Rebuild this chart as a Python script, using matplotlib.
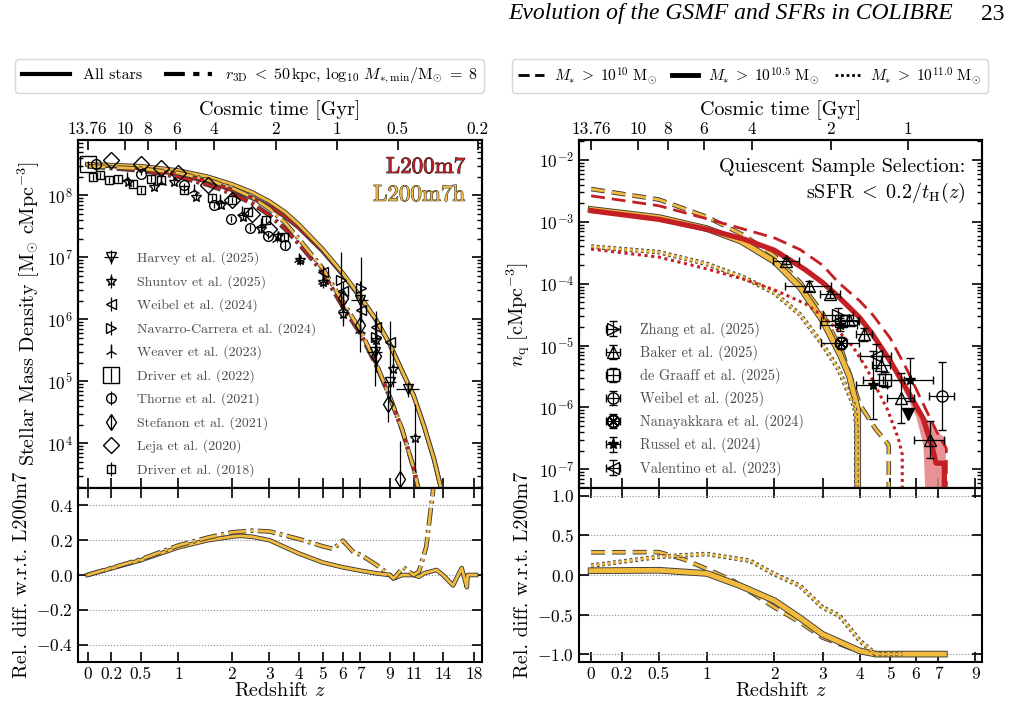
import numpy as np
import matplotlib
matplotlib.use('Agg')
import matplotlib.pyplot as plt
import matplotlib.patheffects as pe
from matplotlib.lines import Line2D
from matplotlib.ticker import NullLocator

plt.rcParams['font.family'] = 'serif'
plt.rcParams['font.serif'] = ['cmr10']
plt.rcParams['mathtext.fontset'] = 'cm'
plt.rcParams['axes.formatter.use_mathtext'] = True
plt.rcParams['axes.linewidth'] = 1.5

RED = '#c41f24'
GOLD = '#f3bb3d'

# ---------------- left panel: stellar mass density (log10 values) -------------
z_smd = [0, 0.5, 1, 1.5, 2, 2.5, 3, 3.5, 4, 5, 6, 7, 8, 9, 10, 11, 12, 13, 14, 14.5]
smd_m7_all = [8.50, 8.44, 8.34, 8.22, 8.09, 7.96, 7.82, 7.66, 7.48, 7.10, 6.72,
              6.35, 5.99, 5.60, 5.16, 4.77, 4.27, 3.75, 3.15, 2.80]
smd_m7h_all = [8.50, 8.47, 8.40, 8.30, 8.18, 8.05, 7.90, 7.73, 7.53, 7.13, 6.74,
               6.36, 6.00, 5.60, 5.16, 4.77, 4.27, 3.75, 3.15, 2.80]
z_smd_ap = [0, 0.5, 1, 1.5, 2, 2.5, 3, 3.5, 4, 5, 6, 7, 8, 9, 10, 11, 11.5, 12]
smd_m7_ap = [8.47, 8.40, 8.30, 8.17, 8.03, 7.87, 7.68, 7.46, 7.22, 6.76, 6.20,
             5.77, 5.27, 4.75, 4.21, 3.60, 3.20, 2.70]
smd_m7h_ap = [8.47, 8.43, 8.36, 8.25, 8.12, 7.97, 7.78, 7.56, 7.30, 6.82, 6.28,
              5.82, 5.30, 4.75, 4.22, 3.60, 3.22, 2.80]

z_diff_all = [0, 0.5, 1, 1.5, 2, 2.2, 2.5, 3, 4, 5, 6, 7, 8, 9, 9.3, 10, 11, 11.5,
              12, 13.3, 14, 15.2, 16.3, 17.0, 17.1, 18.3]
diff_all = [0, 0.085, 0.159, 0.2, 0.22, 0.225, 0.22, 0.2, 0.124, 0.072, 0.044,
            0.025, 0.01, 0.0, -0.02, 0.0, 0.0, -0.01, 0.01, 0.029, 0.0, -0.06,
            0.04, -0.07, 0.0, 0.0]
z_diff_ap = [0, 0.5, 1, 1.5, 2, 2.5, 3, 4, 5, 5.5, 6, 6.6, 7, 8, 9, 9.3, 10.1, 11,
             11.5, 12.2, 12.9, 13.3]
diff_ap = [0, 0.09, 0.17, 0.215, 0.245, 0.255, 0.25, 0.207, 0.165, 0.15, 0.197,
           0.13, 0.117, 0.06, 0.0, -0.02, 0.044, 0.0, 0.02, 0.16, 0.48, 1.2]

# observations (z, log10 rho, err dex, err z)
harvey_z = [6.96, 7.92, 9.0, 10.5]
harvey_lg = [6.31, 5.47, 4.99, 4.87]
harvey_e = [0.3, 0.55, 0.3, 0.12]
harvey_dz = [0.5, 0.5, 0.5, 1.0]
shuntov_z = [0.36, 0.66, 0.94, 1.28, 1.76, 2.26, 2.75, 3.26, 4.04, 5.01, 5.99, 7.99, 9.27, 11.1]
shuntov_lg = [8.21, 8.13, 8.21, 7.97, 7.84, 7.65, 7.46, 7.35, 6.95, 6.60, 6.09, 5.66, 5.20, 4.08]
shuntov_e = [0.04, 0.04, 0.04, 0.05, 0.05, 0.05, 0.06, 0.06, 0.08, 0.1, 0.2, 0.25, 0.3, 0.55]
weibel24_z = [5.0, 6.0, 7.04, 7.99, 9.0]
weibel24_lg = [6.76, 6.45, 6.15, 5.88, 5.63]
weibel24_e = [0.1, 0.15, 0.2, 0.25, 0.35]
navarro_z = [5.9, 7.04, 8.0]
navarro_lg = [6.63, 6.50, 5.71]
navarro_e = [0.45, 0.5, 0.3]
weaver_z = [0.35, 0.75, 1.25, 1.75, 2.25, 2.75, 3.25, 4.0, 5.0, 6.0, 7.0]
weaver_lg = [8.28, 8.22, 8.08, 7.93, 7.73, 7.53, 7.30, 6.98, 6.62, 6.18, 5.82]
weaver_e = [0.03, 0.03, 0.03, 0.04, 0.04, 0.05, 0.05, 0.08, 0.1, 0.2, 0.35]
driver22_z = [0.0]
driver22_lg = [8.50]
driver22_e = [0.06]
thorne_z = [0.065, 0.5, 1.09, 1.63, 1.99, 2.44, 2.96, 3.5]
thorne_lg = [8.51, 8.35, 8.16, 7.84, 7.62, 7.48, 7.35, 7.2]
thorne_e = [0.03, 0.03, 0.04, 0.04, 0.05, 0.05, 0.06, 0.06]
stefanon_z = [6.0, 7.0, 8.0, 8.9, 9.8]
stefanon_lg = [6.35, 5.9, 5.4, 4.64, 3.43]
stefanon_e = [0.15, 0.2, 0.25, 0.3, 0.6]
leja_z = [0.2, 0.5, 0.75, 1.0, 1.5, 2.0, 2.5, 3.0]
leja_lg = [8.57, 8.51, 8.44, 8.36, 8.16, 7.92, 7.7, 7.45]
driver18_z = [0.04, 0.1, 0.18, 0.26, 0.41, 0.5, 0.62, 0.75, 1.09, 1.59, 2.0, 2.4, 2.9, 3.48]
driver18_lg = [8.30, 8.32, 8.25, 8.27, 8.19, 8.08, 8.27, 8.24, 8.08, 7.96, 7.92, 7.73, 7.60, 7.33]
driver18_e = [0.05] * 14

# ---------------- right panel: quiescent number density (log10) ---------------
zq_m7_10 = [0, 0.5, 1.0, 1.5, 2.0, 2.5, 3.0, 3.4, 4.0, 4.4, 5.0, 5.6, 6.4, 7.0, 7.4, 7.4]
nq_m7_10 = [-2.58, -2.74, -2.95, -3.12, -3.26, -3.45, -3.70, -3.98, -4.28, -4.5,
            -4.88, -5.36, -6.01, -6.44, -6.66, -9]
zq_m7_105 = [0, 0.5, 1.0, 1.5, 2.0, 2.6, 3.0, 3.4, 4.0, 4.4, 5.0, 5.6, 6.3, 6.7, 6.9, 7.3, 7.3]
nq_m7_105 = [-2.82, -2.96, -3.12, -3.28, -3.46, -3.77, -3.98, -4.21, -4.55, -4.82,
             -5.25, -5.69, -6.17, -6.62, -6.9, -6.9, -9]
zq_m7_11 = [0, 0.5, 1.0, 1.5, 2.0, 2.6, 3.0, 3.4, 3.8, 4.2, 4.9, 5.3, 5.45, 5.45]
nq_m7_11 = [-3.44, -3.57, -3.76, -3.93, -4.1, -4.32, -4.52, -4.76, -5.02, -5.36,
            -6.03, -6.5, -6.76, -9]
zq_m7h_10 = [0, 0.5, 1.0, 1.5, 2.0, 2.5, 3.0, 3.5, 4.0, 4.5, 4.9, 4.95, 4.95]
nq_m7h_10 = [-2.47, -2.64, -2.92, -3.22, -3.55, -3.98, -4.48, -5.1, -5.95, -6.35,
             -6.58, -6.62, -9]
zq_m7h_105 = [0, 0.5, 1.0, 1.45, 2.0, 2.5, 3.0, 3.45, 3.7, 3.9, 3.94, 3.94]
nq_m7h_105 = [-2.80, -2.93, -3.11, -3.31, -3.64, -4.06, -4.59, -5.15, -5.5, -5.95, -6.05, -9]
zq_m7h_11 = [0, 0.5, 1.0, 1.5, 2.0, 2.5, 3.0, 3.4, 3.85, 3.9, 3.9]
nq_m7h_11 = [-3.40, -3.49, -3.68, -3.9, -4.15, -4.5, -4.98, -5.38, -6.0, -6.3, -9]
z_band = [5.0, 5.5, 6.0, 6.3, 6.4, 6.6, 7.0, 7.35]
band_hi = [-5.22, -5.6, -5.95, -6.1, -6.15, -6.25, -6.4, -6.5]
band_lo = [-5.28, -5.72, -6.15, -6.6, -7.5, -9, -9, -9]

zd_10 = [0, 0.5, 0.74, 1.0, 1.34, 2.0, 2.5, 3.0, 4.0, 4.5, 5.0, 6.0, 7.3]
d_10 = [0.286, 0.29, 0.2, 0.076, -0.072, -0.41, -0.6, -0.79, -0.97, -1.0, -1.0, -1.0, -1.0]
zd_105 = [0, 0.5, 1.0, 1.44, 2.0, 2.49, 3.0, 4.0, 4.5, 5.0, 6.0, 7.3]
d_105 = [0.054, 0.06, 0.02, -0.135, -0.325, -0.54, -0.75, -0.96, -1.0, -1.0, -1.0, -1.0]
zd_11 = [0, 0.5, 1.0, 1.59, 2.0, 2.49, 3.0, 3.43, 4.0, 4.5, 5.0, 5.45]
d_11 = [0.118, 0.23, 0.266, 0.18, 0.01, -0.135, -0.41, -0.515, -0.83, -1.0, -1.0, -1.0]

zhang_z, zhang_lg, zhang_e, zhang_dz = [3.4], [-4.5], [0.1], [0.4]
baker_z = [2.22, 2.7, 3.18, 3.7, 4.14, 4.68, 5.4, 6.6]
baker_lg = [-3.63, -4.04, -4.17, -4.58, -4.82, -5.31, -5.85, -6.52]
baker_e = [0.05, 0.08, 0.06, 0.08, 0.1, 0.15, 0.4, 0.3]
baker_dz = [0.25, 0.5, 0.25, 0.25, 0.25, 0.3, 0.5, 0.7]
graaff_z, graaff_lg, graaff_e, graaff_dz = [3.47, 4.8], [-4.6, -5.55], [0.1, 0.12], [0.5, 0.7]
weibel25_z, weibel25_lg, weibel25_e, weibel25_dz = [7.18], [-5.82], [0.55], [0.6]
nana_z, nana_lg, nana_e, nana_dz = [3.47], [-4.96], [0.1], [0.5]
russel_z = [3.43, 4.4, 5.75]
russel_lg = [-4.66, -5.63, -5.55]
russel_e = [0.1, 0.55, 0.35]
russel_dz = [0.5, 0.5, 1.0]
valent_z, valent_lg, valent_e, valent_dz = [4.52], [-5.17], [0.2], [0.5]
limit_z, limit_lg = [5.66], [-6.1]

# axis ticks
zt_left = [0, 0.2, 0.5, 1, 2, 3, 4, 5, 6, 7, 9, 11, 14, 18]
zt_right = [0, 0.2, 0.5, 1, 2, 3, 4, 5, 6, 7, 9]
age_left = ['13.76', '10', '8', '6', '4', '2', '1', '0.5', '0.2']
age_right = ['13.76', '10', '8', '6', '4', '2', '1']

H0, Om = 68.1, 0.306
OL = 1 - Om
tH = 977.8 / H0

TICK = 12.5
LAB = 14.5


def z_of_t(t):
    a32 = np.sinh(1.5 * np.sqrt(OL) * np.asarray(t) / tH) / np.sqrt(OL / Om)
    return a32 ** (-2.0 / 3.0) - 1


def fwd(z):
    return np.log10(np.clip(1 + np.asarray(z, float), 1e-6, None))


def inv(x):
    return 10 ** np.asarray(x, float) - 1


def lab(v):
    return ['%g' % x for x in v]


def style(ax, zt, xlim, lower):
    ax.set_xscale('function', functions=(fwd, inv))
    ax.set_xticks(zt)
    ax.set_xticklabels(lab(zt) if lower else [])
    ax.set_xlim(xlim)
    ax.xaxis.set_minor_locator(NullLocator())
    ax.tick_params(which='both', direction='in', top=lower, right=True,
                   labelsize=TICK)
    ax.tick_params(which='major', length=7, width=1.2)
    ax.tick_params(which='minor', length=3.5, width=1)


def add_top(ax, ages, xlim):
    tw = ax.twiny()
    tw.set_xscale('function', functions=(fwd, inv))
    tw.set_xticks(z_of_t([float(a) for a in ages]))
    tw.set_xticklabels(ages)
    tw.set_xlim(xlim)
    tw.xaxis.set_minor_locator(NullLocator())
    tw.tick_params(direction='in', length=7, width=1.2, labelsize=TICK, pad=2)
    tw.set_xlabel('Cosmic time [Gyr]', fontsize=LAB, labelpad=5)


def outl(lw, c='#3a3a3a'):
    return [pe.Stroke(linewidth=lw + 1.3, foreground=c), pe.Normal()]


def obs(ax, z, lg, dlg, dz, marker, label, ms=6, mfc='none', capsize=0):
    lg = np.asarray(lg, float)
    y = 10 ** lg
    if dlg is None:
        yerr = None
    else:
        dlg = np.asarray(dlg, float)
        yerr = [y - 10 ** (lg - dlg), 10 ** (lg + dlg) - y]
    return ax.errorbar(z, y, yerr=yerr, xerr=dz, marker=marker, ls='none', ms=ms,
                       mfc=mfc, mec='k', mew=1.0, ecolor='k', elinewidth=0.9,
                       capsize=capsize, label=label, zorder=4)


def p10(v):
    return 10 ** np.asarray(v, float)


W, H = 1011, 708
fig = plt.figure(figsize=(W / 100, H / 100), dpi=100)
axL = fig.add_axes([78 / W, 1 - 488 / H, 404 / W, 348 / H])
axLb = fig.add_axes([78 / W, 1 - 662 / H, 404 / W, 174 / H])
axR = fig.add_axes([579 / W, 1 - 488 / H, 403 / W, 348 / H])
axRb = fig.add_axes([579 / W, 1 - 662 / H, 403 / W, 174 / H])

xlimL = (-0.07, 19.2)
xlimR = (-0.07, 9.4)

# ---- left top
axL.set_yscale('log')
axL.plot(z_smd, p10(smd_m7_all), color=RED, lw=2.0, path_effects=outl(2.0), zorder=3)
axL.plot(z_smd_ap, p10(smd_m7_ap), color=RED, lw=2.0, ls='-.', path_effects=outl(2.0), zorder=3)
axL.plot(z_smd, p10(smd_m7h_all), color=GOLD, lw=2.0, path_effects=outl(2.0), zorder=3)
axL.plot(z_smd_ap, p10(smd_m7h_ap), color=GOLD, lw=2.0, ls='-.', path_effects=outl(2.0), zorder=3)

obs(axL, harvey_z, harvey_lg, harvey_e, harvey_dz, 'v', 'Harvey et al. (2025)', ms=7)
obs(axL, shuntov_z, shuntov_lg, shuntov_e, None, '*', 'Shuntov et al. (2025)', ms=7)
obs(axL, weibel24_z, weibel24_lg, weibel24_e, None, '<', 'Weibel et al. (2024)', ms=7)
obs(axL, navarro_z, navarro_lg, navarro_e, None, '>', 'Navarro-Carrera et al. (2024)', ms=7)
obs(axL, weaver_z, weaver_lg, weaver_e, None, '2', 'Weaver et al. (2023)', ms=9)
obs(axL, driver22_z, driver22_lg, driver22_e, None, 's', 'Driver et al. (2022)', ms=11)
obs(axL, thorne_z, thorne_lg, thorne_e, None, 'o', 'Thorne et al. (2021)', ms=7)
obs(axL, stefanon_z, stefanon_lg, stefanon_e, None, 'd', 'Stefanon et al. (2021)', ms=8)
obs(axL, leja_z, leja_lg, None, None, 'D', 'Leja et al. (2020)', ms=8)
obs(axL, driver18_z, driver18_lg, driver18_e, None, 's', 'Driver et al. (2018)', ms=6)

style(axL, zt_left, xlimL, False)
axL.set_ylim(1.9e3, 7.8e8)
add_top(axL, age_left, xlimL)
axL.set_ylabel(r'Stellar Mass Density $[\mathrm{M}_{\odot}\ \mathrm{cMpc}^{-3}]$', fontsize=LAB)
axL.legend(loc='lower left', frameon=False, fontsize=10, labelspacing=0.7,
           handletextpad=0.9, borderaxespad=0.4, labelcolor='0.3',
           bbox_to_anchor=(0.02, 0.0))
for txt, col, yy in [('L200m7', RED, 0.922), ('L200m7h', GOLD, 0.842)]:
    axL.text(0.958, yy, txt, transform=axL.transAxes, ha='right', va='center',
             color=col, fontsize=16.5,
             path_effects=[pe.withStroke(linewidth=0.7, foreground='#222222')])

# ---- left bottom
axLb.plot(z_diff_all, diff_all, color=GOLD, lw=2.0, path_effects=outl(2.0), zorder=3)
axLb.plot(z_diff_ap, diff_ap, color=GOLD, lw=2.0, ls='-.', path_effects=outl(2.0), zorder=3)
style(axLb, zt_left, xlimL, True)
axLb.set_ylim(-0.5, 0.5)
axLb.set_yticks([-0.4, -0.2, 0.0, 0.2, 0.4])
axLb.yaxis.grid(True, ls=':', color='0.55', lw=0.8)
axLb.set_xlabel(r'Redshift $z$', fontsize=LAB, labelpad=0)
axLb.set_ylabel('Rel. diff. w.r.t. L200m7', fontsize=LAB)

# ---- right top
axR.set_yscale('log')
axR.fill_between(z_band, p10(band_lo), p10(band_hi), color='#e47f84', alpha=0.85,
                 lw=0, zorder=2)
axR.plot(zq_m7h_10, p10(nq_m7h_10), color=GOLD, lw=2.0, ls=(0, (5, 2.5)),
         path_effects=outl(2.0), zorder=3)
axR.plot(zq_m7h_105, p10(nq_m7h_105), color=GOLD, lw=3.5, path_effects=outl(3.5), zorder=3)
axR.plot(zq_m7h_11, p10(nq_m7h_11), color=GOLD, lw=2.0, ls=(0, (1, 1)),
         path_effects=outl(2.0), zorder=3)
axR.plot(zq_m7_10, p10(nq_m7_10), color=RED, lw=2.0, ls=(0, (5, 2.5)), zorder=3.1)
axR.plot(zq_m7_105, p10(nq_m7_105), color=RED, lw=3.8, zorder=3.1)
axR.plot(zq_m7_11, p10(nq_m7_11), color=RED, lw=2.2, ls=(0, (1, 1.2)), zorder=3.1)

obs(axR, zhang_z, zhang_lg, zhang_e, zhang_dz, '>', 'Zhang et al. (2025)', ms=8, capsize=3)
obs(axR, baker_z, baker_lg, baker_e, baker_dz, '^', 'Baker et al. (2025)', ms=8, capsize=3)
obs(axR, graaff_z, graaff_lg, graaff_e, graaff_dz, 's', 'de Graaff et al. (2025)', ms=8, capsize=3)
obs(axR, weibel25_z, weibel25_lg, weibel25_e, weibel25_dz, 'o', 'Weibel et al. (2025)', ms=8, capsize=3)
obs(axR, nana_z, nana_lg, nana_e, nana_dz, r'$\otimes$', 'Nanayakkara et al. (2024)', ms=9, mfc='k', capsize=3)
obs(axR, russel_z, russel_lg, russel_e, russel_dz, '*', 'Russel et al. (2024)', ms=8, mfc='k', capsize=3)
obs(axR, valent_z, valent_lg, valent_e, valent_dz, '<', 'Valentino et al. (2023)', ms=8, capsize=3)
axR.plot(limit_z, p10(limit_lg), 'v', color='k', ms=8, zorder=4)

style(axR, zt_right, xlimR, False)
axR.set_ylim(5e-8, 2.1e-2)
add_top(axR, age_right, xlimR)
axR.set_ylabel(r'$n_{\mathrm{q}}\ [\mathrm{cMpc}^{-3}]$', fontsize=LAB)
axR.legend(loc='lower left', frameon=False, fontsize=10.3, labelspacing=0.5,
           handletextpad=0.9, borderaxespad=0.4, labelcolor='0.3',
           bbox_to_anchor=(0.02, 0.0))
axR.text(0.958, 0.922, 'Quiescent Sample Selection:', transform=axR.transAxes,
         ha='right', va='center', fontsize=14.5)
axR.text(0.958, 0.847, r'$\mathrm{sSFR}\;<\;0.2/t_{\mathrm{H}}(z)$', transform=axR.transAxes,
         ha='right', va='center', fontsize=14.5)

# ---- right bottom
axRb.plot(zd_10, d_10, color=GOLD, lw=2.0, ls=(0, (5, 2.5)), path_effects=outl(2.0), zorder=3)
axRb.plot(zd_105, d_105, color=GOLD, lw=3.5, path_effects=outl(3.5), zorder=3)
axRb.plot(zd_11, d_11, color=GOLD, lw=2.0, ls=(0, (1, 1)), path_effects=outl(2.0), zorder=3)
style(axRb, zt_right, xlimR, True)
axRb.set_ylim(-1.1, 1.1)
axRb.set_yticks([-1.0, -0.5, 0.0, 0.5, 1.0])
axRb.yaxis.grid(True, ls=':', color='0.55', lw=0.8)
axRb.set_xlabel(r'Redshift $z$', fontsize=LAB, labelpad=0)
axRb.set_ylabel('Rel. diff. w.r.t. L200m7', fontsize=LAB)

# ---- legends on top
hL = [Line2D([], [], color='k', lw=3),
      Line2D([], [], color='k', lw=3, ls=(0, (5, 2, 1.5, 2)))]
fig.legend(hL, ['All stars',
                r'$r_{\mathrm{3D}}\;<\;50\,\mathrm{kpc}$, $\log_{10}\,M_{*,\mathrm{min}}/\mathrm{M}_{\odot}\;=\;8$'],
           loc='center', bbox_to_anchor=(249.5 / W, 1 - 76 / H), ncol=2, fontsize=11.5,
           handlelength=3.0, columnspacing=1.4)
hR = [Line2D([], [], color='k', lw=2, ls=(0, (4, 2))),
      Line2D([], [], color='k', lw=3.5),
      Line2D([], [], color='k', lw=2, ls=(0, (1, 1)))]
fig.legend(hR, [r'$M_{*}\;>\;10^{10}\ \mathrm{M}_{\odot}$',
                r'$M_{*}\;>\;10^{10.5}\ \mathrm{M}_{\odot}$',
                r'$M_{*}\;>\;10^{11.0}\ \mathrm{M}_{\odot}$'],
           loc='center', bbox_to_anchor=(750 / W, 1 - 76 / H), ncol=3, fontsize=11.1,
           handlelength=1.7, columnspacing=1.0, handletextpad=0.6)

fig.text(953 / W, 1 - 14 / H, 'Evolution of the GSMF and SFRs in COLIBRE', ha='right',
         va='center', family='Liberation Serif', style='italic', fontsize=17)
fig.text(1005 / W, 1 - 14 / H, '23', ha='right', va='center',
         family='Liberation Serif', fontsize=17)

fig.savefig('out.png', dpi=100)
